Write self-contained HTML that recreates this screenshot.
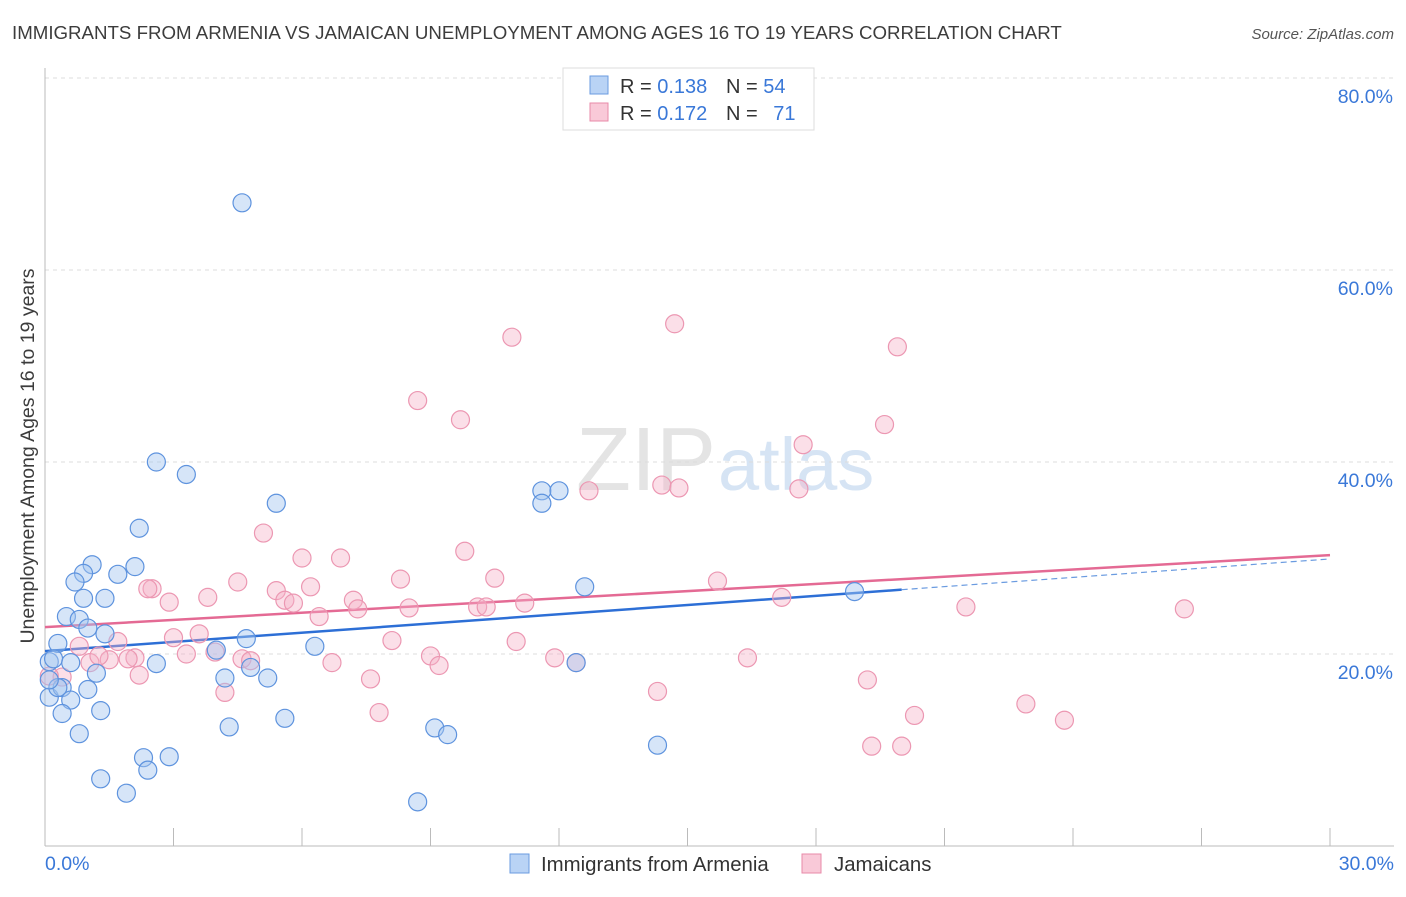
<!DOCTYPE html>
<html><head><meta charset="utf-8"><style>
body{margin:0;background:#fff;font-family:"Liberation Sans",sans-serif;}
svg text{font-family:"Liberation Sans",sans-serif;}
</style></head><body>
<svg id="chart" width="1406" height="892" xmlns="http://www.w3.org/2000/svg">
<text x="12" y="39" font-size="18.7" fill="#3c3c3c">IMMIGRANTS FROM ARMENIA VS JAMAICAN UNEMPLOYMENT AMONG AGES 16 TO 19 YEARS CORRELATION CHART</text>
<text x="1394" y="39" font-size="15" fill="#555" text-anchor="end" font-style="italic">Source: ZipAtlas.com</text>
<text x="716" y="490" font-size="90" fill="#e4e4e4" text-anchor="end" font-family="Liberation Serif">ZIP</text>
<text x="718" y="490" font-size="74" fill="#d6e4f4">atlas</text>
<g id="grid"></g><g id="axes"></g><g id="trends"></g><g id="pts"></g>
<text transform="translate(34,456) rotate(-90)" font-size="19.5" fill="#3c3c3c" text-anchor="middle">Unemployment Among Ages 16 to 19 years</text>
<g>
<rect x="563" y="68" width="251" height="62" fill="#fff" stroke="#ddd"/>
<rect x="590" y="76" width="18" height="18" fill="#b9d3f5" stroke="#6a9be0"/>
<text x="620" y="93" font-size="20" fill="#333">R = <tspan fill="#3a78d8">0.138</tspan></text>
<text x="726" y="93" font-size="20" fill="#333">N = <tspan fill="#3a78d8">54</tspan></text>
<rect x="590" y="103" width="18" height="18" fill="#f9c9d8" stroke="#e88aa8"/>
<text x="620" y="120" font-size="20" fill="#333">R = <tspan fill="#3a78d8">0.172</tspan></text>
<text x="726" y="120" font-size="20" fill="#333">N = <tspan fill="#3a78d8" dx="10">71</tspan></text>
</g>
<g>
<rect x="510" y="854" width="19" height="19" fill="#b9d3f5" stroke="#6a9be0"/>
<text x="541" y="871" font-size="20.4" fill="#333">Immigrants from Armenia</text>
<rect x="802" y="854" width="19" height="19" fill="#f9c9d8" stroke="#e88aa8"/>
<text x="834" y="871" font-size="20.4" fill="#333">Jamaicans</text>
</g>
</svg>
<script>
const NS="http://www.w3.org/2000/svg";
const yTicks=[20,40,60,80];
const xTickLabels=["0.0%","30.0%"];
const blueX=[4.6,2.6,3.3,2.2,5.4,2.1,1.1,1.7,0.9,0.7,1.4,0.9,0.5,0.8,1.0,1.4,0.3,0.1,0.2,0.6,2.6,1.2,0.1,0.4,0.3,0.6,1.0,0.4,1.3,0.8,4.0,4.7,4.8,4.2,5.2,6.3,5.6,4.3,2.3,2.9,2.4,1.3,1.9,8.7,9.1,9.4,11.6,12.0,11.6,12.4,12.6,14.3,18.9,0.1];
const blueY=[67.0,40.0,38.7,33.1,35.7,29.1,29.3,28.3,28.4,27.5,25.8,25.8,23.9,23.6,22.7,22.1,21.1,19.2,19.5,19.1,19.0,18.0,15.5,16.5,16.5,15.2,16.3,13.8,14.1,11.7,20.4,21.6,18.6,17.5,17.5,20.8,13.3,12.4,9.2,9.3,7.9,7.0,5.5,4.6,12.3,11.6,37.0,37.0,35.7,19.1,27.0,10.5,26.5,17.3];
const pinkX=[14.7,10.9,19.9,8.7,9.7,19.6,17.7,14.4,14.8,17.6,12.7,5.1,9.8,6.0,6.9,4.5,8.3,10.5,15.7,6.2,5.4,2.5,2.4,3.8,5.6,5.8,2.9,7.2,7.3,8.5,11.2,10.1,10.3,17.2,21.5,26.6,6.4,3.0,3.6,1.7,3.97,0.8,2.1,3.3,1.5,1.05,1.26,1.94,4.6,4.8,8.1,11.0,9.0,11.9,12.4,9.2,6.7,2.2,16.4,0.4,0.1,7.6,19.2,4.2,14.3,7.8,22.9,20.3,23.8,19.3,20.0];
const pinkY=[54.4,53.0,52.0,46.4,44.4,43.9,41.8,37.6,37.3,37.2,37.0,32.6,30.7,30.0,30.0,27.5,27.8,27.9,27.6,27.0,26.6,26.8,26.8,25.9,25.6,25.3,25.4,25.6,24.7,24.8,25.3,24.9,24.9,25.9,24.9,24.7,23.9,21.7,22.1,21.3,20.2,20.8,19.6,20.0,19.4,19.1,19.8,19.5,19.5,19.3,21.4,21.3,19.8,19.6,19.1,18.8,19.1,17.8,19.6,17.6,17.7,17.4,17.3,16.0,16.1,13.9,14.8,13.6,13.1,10.4,10.4];
const blueTrend=[20.3,26.7];
const blueTrendEndX=20;
const pinkTrend=[22.8,30.3];
const X0=45,X1=1330,Y0=846,Y1=78;
const sx=v=>X0+(v/30)*(X1-X0);
const sy=v=>Y0-(v/80)*(Y0-Y1);
function mk(t,a,p){const e=document.createElementNS(NS,t);for(const k in a)e.setAttribute(k,a[k]);p.appendChild(e);return e;}
const grid=document.getElementById('grid'),axes=document.getElementById('axes'),tr=document.getElementById('trends'),pts=document.getElementById('pts');
yTicks.forEach(v=>{
 const l=mk('line',{x1:X0,x2:1394,y1:sy(v),y2:sy(v),stroke:'#dcdcdc','stroke-dasharray':'4,4'},grid);
 
 
 const t=mk('text',{x:1393,y:sy(v)+25,'font-size':19.5,fill:'#3a78d8','text-anchor':'end'},grid);
 t.textContent=v.toFixed(1)+'%';
 
 
});
let a=mk('line',{x1:X0,x2:X0,y1:68,y2:Y0,stroke:'#bbb'},axes);


a=mk('line',{x1:X0,x2:1394,y1:Y0,y2:Y0,stroke:'#bbb'},axes);


for(let i=0;i<=10;i++){const t=mk('line',{x1:sx(i*3),x2:sx(i*3),y1:Y0,y2:828,stroke:'#bbb'},axes);
 
 }
[[0,'start',45],[30,'end',1394]].forEach((d,i)=>{const t=mk('text',{x:d[2],y:870,'font-size':19.5,fill:'#3a78d8','text-anchor':d[1]},axes);t.textContent=xTickLabels[i];
 
 });
const bs=blueTrend[0],bsl=(blueTrend[1]-blueTrend[0])/blueTrendEndX;
let l=mk('line',{x1:sx(blueTrendEndX),y1:sy(blueTrend[1]),x2:sx(30),y2:sy(bs+bsl*30),stroke:'#6a9be0','stroke-width':1.2,'stroke-dasharray':'6,4'},tr);


l=mk('line',{x1:sx(0),y1:sy(bs),x2:sx(blueTrendEndX),y2:sy(blueTrend[1]),stroke:'#2d6fd6','stroke-width':2.5},tr);


l=mk('line',{x1:sx(0),y1:sy(pinkTrend[0]),x2:sx(30),y2:sy(pinkTrend[1]),stroke:'#e46a94','stroke-width':2.5},tr);


pinkX.forEach((x,i)=>{const c=mk('circle',{cx:sx(x),cy:sy(pinkY[i]),r:9,fill:'rgba(246,175,198,0.4)',stroke:'#ec97b2','stroke-width':1.2},pts);
 
 });
blueX.forEach((x,i)=>{const c=mk('circle',{cx:sx(x),cy:sy(blueY[i]),r:9,fill:'rgba(165,198,240,0.45)',stroke:'#5e93de','stroke-width':1.2},pts);
 
 });
</script>
</body></html>
